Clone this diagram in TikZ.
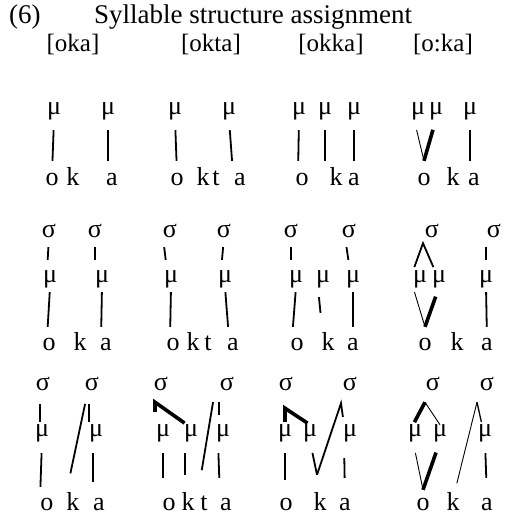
\documentclass[tikz,border=0pt]{standalone}
\usepackage{fontspec}
\setmainfont{Liberation Serif}
\usepackage{tikz}
\newcommand{\glossfont}{\fontsize{26}{30}\selectfont}
\newcommand{\formfont}{\fontsize{25}{30}\selectfont}
\newcommand{\headfont}{\fontsize{27}{32}\selectfont}
\tikzstyle{tier} = [inner sep=0pt, anchor=base, text height=11pt, font=\glossfont]
\tikzstyle{mora} = [tier, text depth=5pt]
\tikzstyle{syl} = [tier, text depth=0pt]
\tikzstyle{seg} = [tier, text depth=0pt]
\tikzstyle{form} = [inner sep=0pt, anchor=base, font=\formfont]
\tikzstyle{link} = [line width=1.8pt]
\tikzstyle{thinlink} = [line width=0.9pt]
\tikzstyle{thicklink} = [line width=3.6pt]

\begin{document}
\begin{tikzpicture}[x=1pt, y=-1pt]
\useasboundingbox (0,0) rectangle (506,515);

% Heading and input forms
\node[form, anchor=base west, font=\headfont] (num) at (9,23) {(6)};
\node[form, anchor=base west, font=\headfont] (title) at (94,23) {Syllable structure assignment};
\node[form] (lab1) at (73,51) {[oka]};
\node[form] (lab2) at (211,51) {[okta]};
\node[form] (lab3) at (331,51) {[okka]};
\node[form] (lab4) at (443,51) {[o:ka]};

% Row 1: mora assignment
\node[mora] (mu11a) at (54,114) {μ};
\node[mora] (mu11b) at (108,114) {μ};
\node[mora] (mu12a) at (175,114) {μ};
\node[mora] (mu12b) at (229,114) {μ};
\node[mora] (mu13a) at (299,114) {μ};
\node[mora] (mu13b) at (325,114) {μ};
\node[mora] (mu13c) at (354,114) {μ};
\node[mora] (mu14a) at (418,114) {μ};
\node[mora] (mu14b) at (436,114) {μ};
\node[mora] (mu14c) at (470,114) {μ};

\node[seg] (o11) at (52,185) {o};
\node[seg] (k11) at (73,185) {k};
\node[seg] (a11) at (112,185) {a};
\node[seg] (o12) at (177,185) {o};
\node[seg] (k12) at (203,185) {k};
\node[seg] (t12) at (216,185) {t};
\node[seg] (a12) at (240,185) {a};
\node[seg] (o13) at (302,185) {o};
\node[seg] (k13) at (336,185) {k};
\node[seg] (a13) at (354,185) {a};
\node[seg] (o14) at (424,185) {o};
\node[seg] (k14) at (453,185) {k};
\node[seg] (a14) at (474,185) {a};

\begin{scope}[shorten <=11pt, shorten >=13pt]
\draw[link] (mu11a.south) -- (o11.north);
\draw[link] (mu11b.south) -- ([xshift=-4pt]a11.north);
\draw[link] (mu12a.south) -- (o12.north);
\draw[link] (mu12b.south) -- ([xshift=-7pt]a12.north);
\draw[link] (mu13a.south) -- ([xshift=-4pt]o13.north);
\draw[link] (mu13b.south) -- (mu13b.south |- k13.north);
\draw[link] (mu13c.south) -- (a13.north);
\draw[thinlink, shorten >=0pt] ([xshift=-4pt]mu14a.south) -- ([yshift=13pt]o14.north);
\draw[thicklink, shorten >=0pt] (mu14b.south) -- ([yshift=13pt]o14.north);
\draw[link] (mu14c.south) -- (mu14c.south |- a14.north);
\end{scope}

% Row 2: syllables over moras
\node[syl] (sig21a) at (49,237) {σ};
\node[syl] (sig21b) at (95,237) {σ};
\node[syl] (sig22a) at (170,237) {σ};
\node[syl] (sig22b) at (224,237) {σ};
\node[syl] (sig23a) at (291,237) {σ};
\node[syl] (sig23b) at (349,237) {σ};
\node[syl] (sig24a) at (432,237) {σ};
\node[syl] (sig24b) at (494,237) {σ};

\node[mora] (mu21a) at (50,282) {μ};
\node[mora] (mu21b) at (102,282) {μ};
\node[mora] (mu22a) at (171,282) {μ};
\node[mora] (mu22b) at (225,282) {μ};
\node[mora] (mu23a) at (296,282) {μ};
\node[mora] (mu23b) at (323,282) {μ};
\node[mora] (mu23c) at (353,282) {μ};
\node[mora] (mu24a) at (420,282) {μ};
\node[mora] (mu24b) at (439,282) {μ};
\node[mora] (mu24c) at (486,282) {μ};

\node[seg] (o21) at (49,350) {o};
\node[seg] (k21) at (80,350) {k};
\node[seg] (a21) at (106,350) {a};
\node[seg] (o22) at (173,350) {o};
\node[seg] (k22) at (193,350) {k};
\node[seg] (t22) at (208,350) {t};
\node[seg] (a22) at (233,350) {a};
\node[seg] (o23) at (297,350) {o};
\node[seg] (k23) at (328,350) {k};
\node[seg] (a23) at (353,350) {a};
\node[seg] (o24) at (425,350) {o};
\node[seg] (k24) at (457,350) {k};
\node[seg] (a24) at (487,350) {a};

\begin{scope}[shorten <=10pt, shorten >=11pt]
\draw[link] (sig21a.south) -- ([xshift=-3pt]mu21a.north);
\draw[link] (sig21b.south) -- (sig21b.south |- mu21b.north);
\draw[link] ([xshift=-7pt]sig22a.south) -- ([xshift=-4pt]mu22a.north);
\draw[link] (sig22b.south) -- ([xshift=-4pt]mu22b.north);
\draw[link] (sig23a.south) -- (sig23a.south |- mu23a.north);
\draw[link] ([xshift=-4pt]sig23b.south) -- ([xshift=-3pt]mu23c.north);
\draw[link, shorten <=4pt, shorten >=4pt] ([xshift=-7pt]mu24a.north) -- ([xshift=-9pt,yshift=-6pt]sig24a.south) -- ([xshift=-4pt]mu24b.north);
\draw[link] (mu24c.north |- sig24b.south) -- (mu24c.north);
\end{scope}

\begin{scope}[shorten <=5pt, shorten >=12pt]
\draw[link] (mu21a.south) -- ([xshift=-2pt]o21.north);
\draw[link] (mu21b.south) -- ([xshift=-5pt]a21.north);
\draw[link] (mu22a.south) -- ([xshift=-3pt]o22.north);
\draw[link] (mu22b.south) -- ([xshift=-4pt]a22.north);
\draw[link] (mu23a.south) -- ([xshift=-5pt]o23.north);
\draw[link, shorten <=10pt, shorten >=26pt] ([xshift=-5pt]mu23b.south) -- ([xshift=-5pt]k23.north);
\draw[link] (mu23c.south) -- (a23.north);
\draw[thinlink, shorten >=0pt] ([xshift=-7pt]mu24a.south) -- ([yshift=12pt]o24.north);
\draw[thicklink, shorten <=10pt, shorten >=0pt] (mu24b.south) -- ([yshift=12pt]o24.north);
\draw[link] (mu24c.south) -- (a24.north);
\end{scope}

% Row 3: resyllabified structures
\node[syl] (sig31a) at (43,390) {σ};
\node[syl] (sig31b) at (92,390) {σ};
\node[syl] (sig32a) at (161,390) {σ};
\node[syl] (sig32b) at (227,390) {σ};
\node[syl] (sig33a) at (286,390) {σ};
\node[syl] (sig33b) at (350,390) {σ};
\node[syl] (sig34a) at (433,390) {σ};
\node[syl] (sig34b) at (487,390) {σ};

\node[mora] (mu31a) at (42,436) {μ};
\node[mora] (mu31b) at (96,436) {μ};
\node[mora] (mu32a) at (163,436) {μ};
\node[mora] (mu32b) at (191,436) {μ};
\node[mora] (mu32c) at (223,436) {μ};
\node[mora] (mu33a) at (285,436) {μ};
\node[mora] (mu33b) at (310,436) {μ};
\node[mora] (mu33c) at (350,436) {μ};
\node[mora] (mu34a) at (415,436) {μ};
\node[mora] (mu34b) at (440,436) {μ};
\node[mora] (mu34c) at (485,436) {μ};

\node[seg] (o31) at (47,510) {o};
\node[seg] (k31) at (73,510) {k};
\node[seg] (a31) at (99,510) {a};
\node[seg] (o32) at (169,510) {o};
\node[seg] (k32) at (188,510) {k};
\node[seg] (t32) at (204,510) {t};
\node[seg] (a32) at (226,510) {a};
\node[seg] (o33) at (286,510) {o};
\node[seg] (k33) at (320,510) {k};
\node[seg] (a33) at (345,510) {a};
\node[seg] (o34) at (423,510) {o};
\node[seg] (k34) at (453,510) {k};
\node[seg] (a34) at (487,510) {a};

\begin{scope}[shorten <=14pt, shorten >=3pt]
\draw[link] ([xshift=-3pt]sig31a.south) -- ([xshift=-2pt]mu31a.north);
\draw[link] ([xshift=-3pt]sig31b.south) -- ([xshift=-7pt]mu31b.north);
\draw[link, shorten >=26pt] ([xshift=-4pt]sig31b.south) -- ([xshift=-8pt]k31.north);
\draw[thicklink, shorten <=13pt] ([xshift=-8pt]mu32a.north) -- ([xshift=-6pt,yshift=-12pt]sig32a.south) -- ([xshift=-4pt]mu32b.north);
\draw[link, shorten <=12pt, shorten >=29pt] ([xshift=-12pt]sig32b.south) -- ([xshift=-7pt]t32.north);
\draw[link, shorten <=12pt, shorten >=10pt] ([xshift=-8pt]sig32b.south) -- ([xshift=-4pt]mu32c.north);
\draw[thicklink, shorten <=3pt] (mu33a.north) -- ([xshift=-1pt,yshift=-18pt]sig33a.south) -- (mu33b.north);
\draw[link, shorten <=0pt, shorten >=8pt] ([xshift=-3pt,yshift=24pt]k33.north) -- ([xshift=-9pt,yshift=-13pt]sig33b.south) -- ([xshift=-6pt]mu33c.north);
\draw[thicklink, shorten <=0pt] ([xshift=-8pt,yshift=-12pt]sig34a.south) -- ([xshift=-2pt]mu34a.north);
\draw[thinlink, shorten <=0pt, shorten >=0pt] ([xshift=-8pt,yshift=-12pt]sig34a.south) -- (mu34b.north);
\draw[thinlink, shorten <=0pt, shorten >=16pt] ([xshift=-10pt,yshift=-12pt]sig34b.south) -- (k34.north);
\draw[link, line width=1.3pt, shorten <=0pt] ([xshift=-10pt,yshift=-12pt]sig34b.south) -- ([xshift=-3pt]mu34c.north);
\end{scope}

\begin{scope}[shorten <=12pt, shorten >=21pt]
\draw[link, shorten >=12pt] (mu31a.south) -- ([xshift=-7pt]o31.north);
\draw[link, shorten >=17pt] ([xshift=-3pt]mu31b.south) -- ([xshift=-6pt]a31.north);
\draw[link] (mu32a.south) -- ([xshift=-6pt]o32.north);
\draw[link, shorten >=24pt] ([xshift=-6pt]mu32b.south) -- ([xshift=-3pt]k32.north);
\draw[link] ([xshift=-5pt]mu32c.south) -- ([xshift=-6pt]a32.north);
\draw[link, shorten >=19pt] (mu33a.south) -- ([xshift=-1pt]o33.north);
\draw[link, shorten >=0pt] (mu33b.south) -- ([xshift=-3pt,yshift=24pt]k33.north);
\draw[link, shorten <=17pt] ([xshift=-6pt]mu33c.south) -- (a33.north);
\draw[thinlink, shorten >=0pt] ([xshift=-2pt]mu34a.south) -- ([yshift=9pt]o34.north);
\draw[thicklink, shorten >=0pt] (mu34b.south) -- ([yshift=9pt]o34.north);
\draw[link] (mu34c.south) -- (a34.north);
\end{scope}

\end{tikzpicture}
\end{document}
